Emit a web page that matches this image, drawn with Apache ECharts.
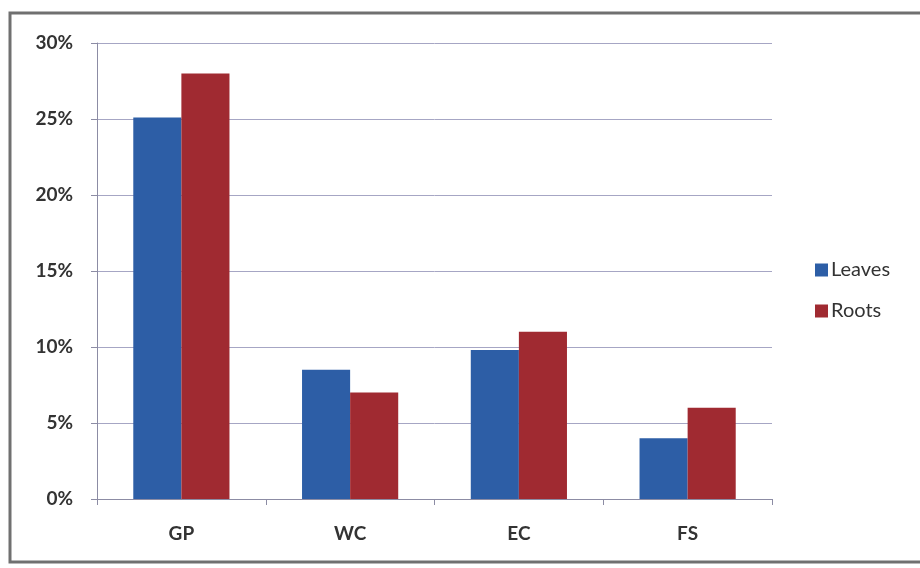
<!DOCTYPE html>
<html>
<head>
<meta charset="utf-8">
<style>
  html, body { margin: 0; padding: 0; background: #ffffff; }
  #chart { width: 920px; height: 568px; }
</style>
<script src="https://cdn.jsdelivr.net/npm/echarts@6/dist/echarts.min.js"></script>
</head>
<body>
<div id="chart"></div>
<script>
// Share of each site group, by plant part
const categories = ['GP', 'WC', 'EC', 'FS'];
const leaves = [25.1, 8.5, 9.8, 4.0];
const roots = [28.0, 7.0, 11.0, 6.0];
const yTicks = [0, 5, 10, 15, 20, 25, 30];

const font = 'Lato, "Open Sans", sans-serif';
const chart = echarts.init(document.getElementById('chart'));

chart.setOption({
  animation: false,
  backgroundColor: '#ffffff',
  graphic: [{
    type: 'rect',
    shape: { x: 10, y: 13, width: 930, height: 549 },
    style: { fill: 'none', stroke: '#707070', lineWidth: 3 },
    silent: true
  }],
  grid: { left: 97, right: 148, top: 43, bottom: 69 },
  legend: {
    orient: 'vertical',
    left: 810,
    top: 255,
    itemWidth: 13,
    itemHeight: 13,
    itemGap: 21,
    icon: 'rect',
    textStyle: { fontFamily: font, fontSize: 20, color: '#333333', padding: [0, 0, 0, -2] },
    data: ['Leaves', 'Roots']
  },
  xAxis: {
    type: 'category',
    data: categories,
    axisLine: { lineStyle: { color: '#8c8ca4', width: 1 } },
    axisTick: { show: true, length: 6, lineStyle: { color: '#8c8ca4' } },
    axisLabel: { fontFamily: font, fontSize: 19, fontWeight: 'bold', color: '#333333', margin: 25 }
  },
  yAxis: {
    type: 'value',
    min: yTicks[0],
    max: yTicks[yTicks.length - 1],
    interval: 5,
    axisLine: { show: true, lineStyle: { color: '#8c8ca4', width: 1 } },
    axisTick: { show: true, length: 6, lineStyle: { color: '#8c8ca4' } },
    splitLine: { lineStyle: { color: '#a6a6c4', width: 1 } },
    axisLabel: {
      fontFamily: font, fontSize: 19, fontWeight: 'bold', color: '#333333', margin: 24,
      formatter: v => v + '%'
    }
  },
  series: [
    {
      name: 'Leaves', type: 'bar', data: leaves,
      barGap: '0%', barCategoryGap: '43%',
      itemStyle: { color: '#2d5ea6' }
    },
    {
      name: 'Roots', type: 'bar', data: roots,
      itemStyle: { color: '#a02a31' }
    }
  ]
});
</script>
</body>
</html>
